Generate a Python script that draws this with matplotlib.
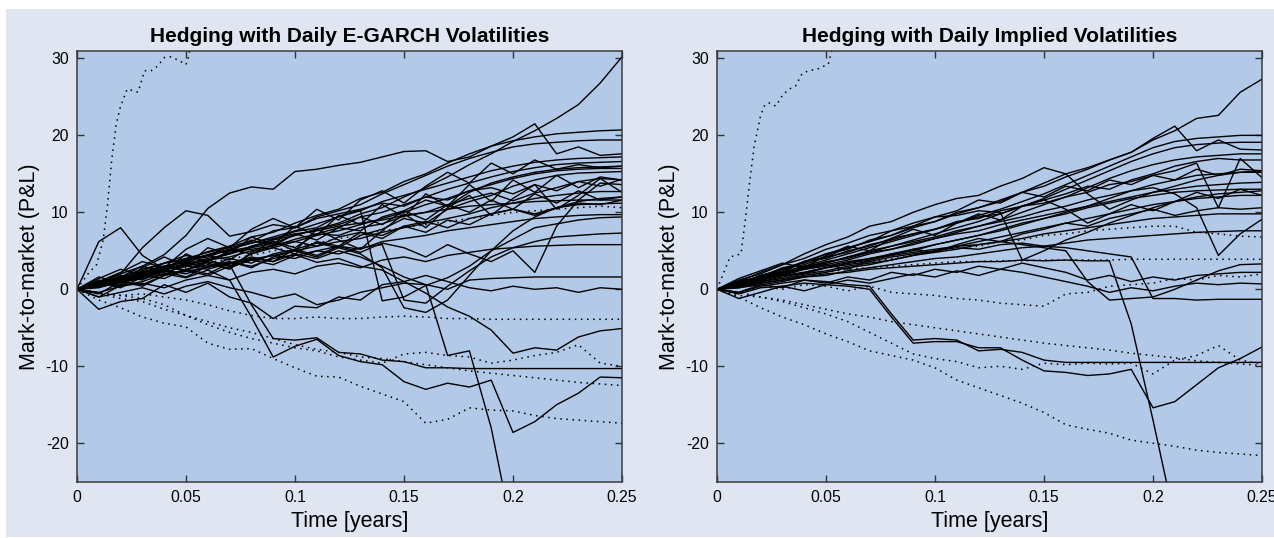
import numpy as np
import matplotlib
matplotlib.use("Agg")
import matplotlib.pyplot as plt
from matplotlib.patches import Rectangle

plt.rcParams['font.family'] = ['Liberation Sans', 'DejaVu Sans']
plt.rcParams['axes.unicode_minus'] = False

nan = np.nan

# time grid [years]
t = [0.00, 0.01, 0.02, 0.03, 0.04, 0.05, 0.06, 0.07, 0.08, 0.09, 0.10, 0.11, 0.12,
     0.13, 0.14, 0.15, 0.16, 0.17, 0.18, 0.19, 0.20, 0.21, 0.22, 0.23, 0.24, 0.25]

titles = ["Hedging with Daily E-GARCH Volatilities", "Hedging with Daily Implied Volatilities"]
xlabel = "Time [years]"
ylabel = "Mark-to-market (P&L)"
xticks = [0, 0.05, 0.1, 0.15, 0.2, 0.25]
xticklabels = ["0", "0.05", "0.1", "0.15", "0.2", "0.25"]
yticks = [-20, -10, 0, 10, 20, 30]

# ---- E-GARCH panel: solid P&L paths
garch_solid = [
    [0, 0.6, 1.3, 1.8, 2.6, 3.2, 3.8, 4.6, 5.4, 6.0, 7.0, 7.8, 8.6, 9.8, 10.6, 12.0, 13.2, 14.6, 16.2, 17.6, 19.2, 20.6, 22.2, 24.0, 26.8, 30.2],
    [0, 1.0, 1.4, 2.4, 3.4, 3.8, 4.9, 5.6, 6.8, 7.4, 8.6, 9.6, 10.4, 11.8, 12.6, 14.0, 15.0, 16.4, 17.6, 18.6, 19.3, 19.8, 20.2, 20.4, 20.6, 20.7],
    [0, 0.5, 1.6, 2.0, 2.8, 4.0, 4.4, 5.6, 6.2, 7.6, 8.0, 9.4, 10.2, 11.0, 12.4, 13.6, 14.8, 16.0, 17.0, 17.8, 18.5, 18.9, 19.1, 19.3, 19.4, 19.4],
    [0, 1.0, 2.0, 3.0, 4.5, 7.0, 10.5, 12.5, 13.3, 13.0, 15.3, 15.6, 16.1, 16.5, 17.2, 17.9, 18.0, 16.6, 17.2, 18.6, 19.8, 21.5, 17.6, 18.5, 17.4, 17.6],
    [0, 0.8, 2.0, 5.4, 8.0, 10.2, 9.6, 6.9, 7.5, 8.4, 8.0, 9.2, 9.8, 10.4, 11.2, 10.8, 12.0, 11.6, 12.8, 13.2, 12.4, 13.6, 12.8, 14.0, 13.4, 14.3],
    [0, 6.2, 8.0, 4.4, 2.6, 3.8, 4.2, 5.2, 4.6, 5.8, 6.2, 5.6, 6.8, 7.4, 7.0, 8.2, 8.8, 8.0, 9.2, 9.8, 10.4, 9.8, 10.6, 11.2, 11.0, 11.6],
    [0, 0.5, 1.4, 2.2, 3.0, 3.6, 4.5, 5.2, 6.0, 6.8, 7.6, 8.5, 9.4, 10.2, 11.4, 12.2, 13.0, 13.8, 14.6, 15.4, 16.0, 16.5, 16.8, 17.0, 17.1, 17.2],
    [0, 0.7, 1.2, 1.6, 2.4, 3.4, 4.0, 4.6, 5.6, 6.4, 7.0, 7.8, 8.4, 9.4, 10.0, 11.0, 12.0, 13.0, 13.8, 14.6, 15.3, 15.8, 16.2, 16.4, 16.5, 16.6],
    [0, 1.2, 0.6, 2.4, 1.8, 3.6, 4.4, 3.8, 5.6, 6.2, 5.4, 7.2, 8.0, 7.6, 9.4, 10.2, 11.6, 10.8, 12.6, 13.8, 14.6, 15.2, 15.6, 15.8, 15.9, 16.0],
    [0, 0.4, 1.0, 1.8, 2.6, 3.2, 3.8, 4.2, 5.0, 5.4, 6.2, 7.0, 7.6, 8.4, 9.2, 10.0, 11.0, 11.8, 12.8, 13.6, 14.4, 15.0, 15.4, 15.6, 15.7, 15.7],
    [0, -0.6, 1.0, 0.4, 1.8, 2.6, 2.0, 3.4, 4.2, 3.6, 5.2, 6.0, 5.4, 7.0, 7.8, 9.2, 8.6, 10.4, 11.4, 12.2, 13.4, 14.2, 14.8, 15.1, 15.2, 15.3],
    [0, 0.8, 1.2, 2.0, 2.6, 3.0, 3.6, 4.8, 5.2, 5.6, 6.5, 7.2, 7.0, 8.0, 8.5, 9.5, 10.0, 11.0, 11.8, 12.5, 11.5, 12.5, 13.2, 14.0, 14.4, 14.2],
    [0, 0.6, 1.8, 1.2, 2.6, 3.4, 2.8, 4.0, 3.4, 4.6, 5.2, 4.4, 5.6, 4.8, 6.0, 5.4, 4.2, 5.8, 4.6, 3.6, 5.0, 2.2, 8.2, 11.6, 13.8, 13.6],
    [0, 0.3, 0.9, 1.4, 2.0, 2.3, 2.9, 3.3, 3.9, 4.4, 5.0, 5.6, 6.2, 6.6, 7.4, 8.0, 8.6, 9.2, 9.8, 10.6, 11.2, 11.8, 12.2, 12.5, 12.7, 12.7],
    [0, 1.4, 2.6, 1.8, 3.4, 4.4, 3.6, 5.0, 6.4, 5.6, 7.2, 6.4, 8.0, 9.4, 8.4, 10.2, 9.0, 11.0, 10.0, 11.6, 10.4, 12.4, 11.2, 12.8, 11.6, 12.0],
    [0, 0.9, 1.6, 2.6, 3.4, 4.0, 4.8, 5.4, 6.0, 6.6, 7.2, 7.6, 8.2, 8.6, 9.0, 9.6, 10.0, 10.4, 10.8, 11.0, 11.2, 11.4, 11.5, 11.6, 11.6, 11.6],
    [0, 0.8, 0.2, 1.6, 2.4, 1.6, 3.0, 3.6, 2.8, 4.2, 5.0, 4.2, 5.4, 4.6, 2.8, -2.4, -3.0, -1.4, 1.8, 5.0, 7.6, 9.4, 10.6, 11.4, 11.8, 12.0],
    [0, 1.0, 0.4, 2.2, 3.0, 2.4, 3.8, 3.0, 4.6, 5.4, 4.6, 6.2, 5.6, 7.4, 6.6, 8.2, 7.4, 9.0, 8.4, 9.8, 10.4, 9.6, 10.6, 11.0, 11.1, 11.2],
    [0, 0.4, 1.2, 1.8, 1.4, 2.6, 3.2, 2.8, 3.8, 4.4, 4.0, 5.0, 5.6, 5.2, 6.2, 6.6, 7.0, 7.6, 8.0, 8.4, 8.8, 9.2, 9.4, 9.6, 9.7, 9.7],
    [0, 0.5, 1.5, 2.0, 3.0, 3.5, 4.5, 5.0, 5.5, 6.5, 7.5, 8.0, 9.5, 10.3, -1.5, -1.0, 0.5, 1.5, 3.0, 5.0, 6.5, 8.0, 8.5, 9.0, 9.3, 9.4],
    [0, 0.2, 1.0, 0.6, 1.8, 2.4, 1.8, 3.0, 3.8, 3.2, 4.4, 5.0, 4.6, 5.4, 5.8, -1.4, -1.8, 0.4, 2.4, 4.2, 5.4, 6.2, 6.8, 7.0, 7.2, 7.3],
    [0, -0.4, 0.4, 0.8, 0.2, 1.2, 1.8, 1.2, 2.2, 2.6, 2.0, 3.0, 3.4, 2.8, 3.8, 4.2, 3.6, 4.4, 4.8, 5.2, 5.4, 5.6, 5.7, 5.8, 5.8, 5.8],
    [0, -1.0, -0.4, 0.2, -0.6, 0.4, 1.0, 0.2, -0.4, -1.2, -0.6, -2.0, -1.4, -0.4, 0.2, 0.8, 0.6, 0.0, 1.2, 1.4, 1.5, 1.6, 1.6, 1.6, 1.6, 1.6],
    [0, -2.6, -1.6, -1.2, 0.6, -0.4, 0.8, -1.0, -1.8, -3.8, -2.2, -2.4, -1.0, -1.4, 0.6, 1.0, 1.8, 1.0, 0.2, -0.2, 0.4, 0.0, 0.2, -0.4, 0.2, 0.0],
    [0, 0.5, 1.0, 1.5, 2.5, 2.0, 3.0, 3.5, 3.0, 4.0, 4.5, 3.5, 4.0, 3.0, 2.5, 1.0, -0.5, -2.3, -3.5, -5.3, -8.3, -7.6, -7.9, -6.2, -5.4, -5.1],
    [0, 0.8, 1.5, 2.2, 3.0, 2.5, 3.5, 3.2, -2.0, -6.4, -6.6, -6.3, -8.2, -8.4, -9.2, -9.4, -10.2, -10.2, -10.3, -10.3, -10.3, -10.3, -10.3, -10.3, -10.3, -10.3],
    [0, -1.0, 0.5, 1.0, 2.0, 1.5, 2.5, 1.2, -3.6, -8.8, -7.4, -6.5, -8.6, -9.4, -9.8, -12.0, -13.0, -12.2, -12.7, -11.8, -18.6, -17.2, -15.0, -13.5, -11.4, -11.5],
    [0, 0.5, 1.0, 1.6, 2.2, 3.0, 2.6, 3.4, 4.0, 3.6, 4.6, 4.0, 5.0, 4.2, 3.0, 1.6, 0.6, -8.6, -8.0, -18.0, -32.0, nan, nan, nan, nan, nan],
    [0, 1.6, 0.8, 2.8, 4.2, 3.0, 5.4, 4.6, 6.8, 5.8, 8.2, 7.0, 9.6, 8.4, 11.0, 9.4, 12.4, 10.8, 13.6, 11.4, 14.2, 12.6, 14.8, 13.2, 14.6, 14.2],
    [0, 0.4, 1.6, 3.0, 2.2, 4.6, 3.4, 2.6, 4.8, 6.2, 5.0, 7.8, 6.4, 5.2, 7.6, 9.8, 8.0, 10.6, 12.2, 9.6, 11.8, 13.6, 10.4, 12.2, 14.4, 12.6],
    [0, 1.0, 2.2, 3.6, 2.8, 5.2, 6.6, 5.4, 7.8, 9.2, 8.0, 10.4, 9.0, 11.6, 12.8, 11.2, 13.4, 15.2, 13.8, 16.4, 15.0, 16.8, 15.6, 16.2, 15.8, 16.0],
]

# ---- E-GARCH panel: dotted paths
garch_dotted = [
    [0, -0.6, -0.8, -0.6, -1.0, -1.4, -2.0, -2.8, -3.4, -3.8, -3.8, -3.6, -3.8, -3.8, -3.6, -3.5, -3.6, -3.8, -3.8, -3.9, -3.9, -3.9, -3.9, -3.9, -3.9, -3.9],
    [0, -1.4, -2.4, -3.6, -4.4, -4.9, -7.0, -7.8, -7.7, -9.0, -10.2, -11.3, -11.4, -12.6, -13.6, -14.6, -17.4, -16.9, -15.4, -15.7, -15.8, -16.4, -16.8, -17.0, -17.2, -17.4],
    [0, -0.6, -1.2, -1.6, -2.6, -3.4, -4.2, -5.0, -5.6, -6.4, -7.2, -7.8, -8.2, -8.8, -9.0, -9.4, -9.8, -10.2, -10.6, -10.9, -11.2, -11.5, -11.8, -12.1, -12.3, -12.5],
    [0, -0.4, -0.8, -1.2, -2.0, -3.4, -4.6, -5.6, -6.4, -7.0, -7.6, -8.0, -8.8, -9.2, -9.6, -8.4, -8.2, -8.6, -8.8, -9.6, -9.2, -8.6, -8.2, -7.2, -9.6, -10.0],
    [0, 0.4, 1.0, 1.6, 2.4, 2.8, 3.4, 4.0, 4.4, 5.0, 5.6, 6.0, 6.6, 7.0, 7.6, 8.0, 8.4, 8.8, 9.2, 9.6, 10.0, 10.2, 10.4, 10.6, 10.8, 10.6],
]
garch_spike_t = [0, 0.005, 0.009, 0.012, 0.014, 0.016, 0.018, 0.020, 0.023, 0.026, 0.028,
                 0.031, 0.034, 0.037, 0.040, 0.043, 0.047, 0.050, 0.051, 0.053]
garch_spike = [0, 2.0, 3.2, 6.4, 11.0, 17.0, 21.5, 23.8, 26.0, 25.8, 25.6,
               28.4, 28.4, 29.0, 30.1, 30.2, 29.7, 29.2, 30.0, 33.0]

# ---- Implied-vol panel: solid P&L paths
implied_solid = [
    [0, 0.8, 1.8, 2.6, 3.6, 4.6, 5.4, 6.2, 7.0, 8.0, 8.8, 9.8, 10.6, 11.4, 12.6, 13.8, 15.0, 15.8, 16.8, 17.8, 19.4, 20.6, 22.2, 22.6, 25.6, 27.3],
    [0, 1.0, 1.6, 2.8, 3.4, 4.6, 5.2, 6.4, 7.0, 8.2, 8.8, 10.0, 10.6, 11.6, 12.6, 13.4, 14.6, 15.6, 16.8, 17.8, 19.6, 21.2, 18.0, 19.4, 18.2, 18.1],
    [0, 1.2, 2.0, 3.2, 4.6, 5.8, 6.8, 8.2, 8.8, 10.0, 11.0, 11.8, 12.2, 13.4, 14.4, 15.8, 15.0, 12.4, 10.4, 11.6, 12.6, 13.4, 14.2, 14.8, 15.2, 15.4],
    [0, 0.8, 1.4, 2.2, 3.0, 3.8, 4.6, 5.4, 6.2, 7.0, 7.8, 8.6, 9.6, 10.4, 11.4, 12.4, 13.6, 14.8, 16.0, 17.2, 18.4, 19.2, 19.6, 19.8, 20.0, 20.0],
    [0, 0.6, 1.4, 2.0, 2.8, 3.4, 4.2, 5.0, 5.6, 6.4, 7.2, 8.0, 8.8, 9.8, 10.8, 11.8, 13.0, 14.2, 15.4, 16.6, 17.6, 18.4, 18.8, 19.0, 19.1, 19.1],
    [0, 0.6, 1.2, 1.8, 2.6, 3.2, 3.8, 4.6, 5.2, 5.8, 6.6, 7.4, 8.2, 9.0, 10.0, 11.0, 12.0, 13.2, 14.4, 15.4, 16.2, 16.8, 17.2, 17.4, 17.6, 17.6],
    [0, 0.9, 1.6, 2.6, 3.2, 4.2, 4.8, 5.8, 6.4, 7.2, 7.8, 8.8, 9.2, 10.2, 10.8, 11.6, 12.4, 13.4, 13.0, 14.2, 15.0, 16.0, 16.6, 17.0, 16.8, 16.8],
    [0, 0.4, 1.0, 1.6, 2.2, 2.8, 3.4, 4.0, 4.6, 5.2, 5.8, 6.4, 7.0, 7.6, 8.4, 9.2, 10.0, 10.8, 11.8, 12.8, 13.6, 14.2, 14.8, 15.0, 15.2, 15.2],
    [0, 0.6, 1.6, 2.4, 3.6, 4.0, 5.0, 5.6, 6.6, 7.2, 7.8, 8.6, 9.4, 9.8, 10.8, 11.2, 12.0, 12.6, 13.6, 14.0, 14.8, 15.4, 16.4, 10.6, 17.0, 14.5],
    [0, 1.0, 1.6, 2.2, 3.0, 3.4, 4.2, 4.8, 5.2, 6.0, 6.6, 7.2, 7.6, 8.4, 9.0, 9.6, 10.2, 10.8, 11.4, 12.0, 12.6, 13.0, 13.4, 13.6, 13.8, 13.9],
    [0, 0.5, 1.2, 1.8, 2.0, 2.8, 3.4, 3.8, 4.6, 5.0, 5.8, 6.4, 7.0, 7.8, 8.6, 9.2, 9.8, 10.6, 11.2, 11.8, 12.2, 12.6, 12.8, 12.9, 13.0, 13.0],
    [0, 1.0, 2.2, 3.2, 4.0, 5.2, 6.0, 7.0, 7.6, 8.6, 9.4, 9.6, 10.2, 10.0, 3.8, 5.0, 6.4, 7.4, 8.6, 9.6, 10.6, 11.4, 12.0, 12.4, 12.6, 12.8],
    [0, 0.2, 0.8, 1.2, 1.8, 2.2, 2.8, 3.2, 3.8, 4.4, 5.0, 5.6, 6.2, 6.8, 7.4, 8.0, 8.6, 9.2, 9.8, 10.4, 11.0, 11.4, 11.8, 12.0, 12.2, 12.2],
    [0, 0.8, 1.2, 2.0, 2.8, 3.2, 2.6, 3.8, 4.4, 5.2, 4.8, 5.8, 6.6, 6.2, 7.2, 7.8, 8.6, 8.2, 9.2, 9.8, 10.4, 9.6, 10.2, 10.6, 10.4, 10.6],
    [0, 0.4, 1.0, 1.4, 2.0, 2.4, 3.0, 3.4, 3.8, 4.4, 4.8, 5.2, 5.8, 6.2, 6.6, 7.2, 7.6, 8.0, 8.4, 8.8, 9.2, 9.4, 9.6, 9.8, 9.8, 9.8],
    [0, 0.6, 1.4, 2.0, 2.8, 3.6, 4.0, 4.8, 5.6, 6.2, 6.8, 7.6, 8.2, 8.8, 9.4, 10.2, 10.8, 11.6, 12.2, 12.8, 13.2, 12.4, 10.6, 4.4, 7.2, 9.1],
    [0, 0.2, 0.6, 1.0, 1.6, 1.8, 2.4, 2.8, 3.2, 3.6, 4.0, 4.2, 4.6, 5.0, 5.4, 5.6, 6.0, 6.4, 6.6, 6.8, 7.0, 7.2, 7.4, 7.5, 7.6, 7.6],
    [0, 0.8, 1.4, 2.0, 2.6, 3.0, 3.6, 4.0, 4.4, 4.8, 5.2, 5.6, 5.8, 6.2, 5.8, 5.4, 5.0, 1.0, -1.4, -1.2, -1.0, 0.0, 1.2, 2.4, 3.2, 3.3],
    [0, 0.6, 1.2, 1.8, 2.2, 2.8, 3.2, 3.6, 4.2, 4.6, 5.0, 5.4, 5.2, 5.8, 6.0, 5.6, 5.4, 5.0, 4.6, 4.2, -1.2, -1.2, -1.4, -1.3, -1.3, -1.3],
    [0, -0.4, 0.6, 0.2, 1.2, 0.8, 1.6, 1.2, 2.2, 1.8, 2.6, 2.2, 3.0, 2.6, 3.4, 2.8, 2.2, 1.2, 1.8, 1.0, 1.6, 1.2, 1.8, 2.0, 2.2, 2.2],
    [0, -1.2, -0.4, 0.4, -0.2, 0.6, 1.2, 0.8, 1.4, 2.0, 1.6, 2.4, 1.8, 2.6, 2.2, 1.6, 1.0, 0.4, -0.4, 0.2, -0.2, 0.4, 0.8, 0.6, 0.8, 0.7],
    [0, -0.4, 0.4, 0.8, 1.2, 1.0, 0.6, 0.4, -3.2, -6.6, -6.4, -6.6, -8.0, -7.8, -8.2, -9.2, -9.5, -9.5, -9.5, -9.5, -9.5, -9.5, -9.5, -9.5, -9.5, -9.5],
    [0, -0.6, 0.2, 0.4, 0.8, 0.6, 0.4, 0.0, -3.6, -7.0, -6.8, -6.8, -7.6, -7.6, -9.2, -10.6, -10.8, -11.2, -11.0, -10.4, -15.4, -14.6, -12.4, -10.2, -9.0, -7.5],
    [0, 0.4, 0.8, 1.2, 1.6, 2.0, 2.2, 2.6, 2.8, 3.0, 3.2, 3.4, 3.6, 3.6, 3.8, 3.7, 3.8, 3.7, 3.7, -4.5, -17.0, -30.0, nan, nan, nan, nan],
    [0, 1.4, 2.4, 3.4, 2.8, 4.4, 5.6, 5.0, 6.6, 7.8, 7.0, 8.6, 9.8, 9.0, 10.8, 11.6, 10.4, 8.6, 9.8, 11.0, 10.2, 11.4, 12.6, 11.8, 13.0, 12.2],
    [0, 0.6, 1.8, 2.2, 3.6, 4.2, 5.4, 6.2, 7.6, 8.2, 9.4, 10.2, 11.6, 11.2, 12.6, 12.0, 13.4, 12.8, 14.2, 13.6, 14.8, 14.2, 15.6, 14.8, 15.6, 15.4],
]

# ---- Implied-vol panel: dotted paths
implied_dotted = [
    [0, -1.0, -2.4, -3.6, -4.6, -5.8, -6.8, -8.0, -8.6, -9.2, -10.2, -11.8, -12.8, -13.8, -14.8, -16.0, -17.6, -18.2, -18.7, -19.6, -20.0, -20.4, -20.9, -21.2, -21.4, -21.6],
    [0, -0.4, -1.0, -1.4, -2.0, -2.6, -3.2, -3.6, -4.2, -4.6, -5.0, -5.4, -5.8, -6.2, -6.6, -7.0, -7.3, -7.6, -7.9, -8.3, -8.6, -8.9, -9.3, -9.5, -9.7, -9.9],
    [0, -0.8, -1.0, -1.6, -2.4, -3.2, -4.2, -5.6, -7.0, -8.4, -9.0, -9.4, -10.2, -10.0, -10.4, -9.6, -9.8, -9.6, -9.7, -9.6, -11.0, -9.2, -8.6, -7.3, -9.2, -9.7],
    [0, -0.6, 0.4, 0.0, 0.6, 0.4, -0.2, 0.4, -0.4, -0.6, -0.8, -1.2, -1.4, -1.8, -2.0, -2.2, -0.6, -0.4, 0.4, 0.6, 0.8, 1.4, 1.2, 1.8, 1.6, 2.0],
    [0, 0.6, 1.0, 1.4, 1.8, 2.2, 2.6, 2.8, 3.0, 3.2, 3.4, 3.6, 3.6, 3.7, 3.7, 3.8, 3.8, 3.8, 3.8, 3.9, 3.9, 3.9, 3.9, 3.9, 3.9, 3.9],
    [0, 0.8, 1.2, 2.0, 2.2, 2.8, 3.4, 3.6, 4.0, 4.6, 4.8, 5.4, 5.6, 6.2, 6.4, 7.0, 7.2, 7.6, 7.8, 8.0, 8.2, 8.2, 7.4, 7.2, 6.9, 6.8],
]
implied_spike_t = [0, 0.006, 0.011, 0.013, 0.015, 0.017, 0.020, 0.022, 0.024, 0.027,
                   0.030, 0.033, 0.036, 0.039, 0.042, 0.046, 0.049, 0.051, 0.053]
implied_spike = [0, 4.2, 4.6, 9.0, 14.0, 18.5, 22.6, 24.0, 24.2, 23.8,
                 25.2, 26.0, 26.4, 28.0, 28.4, 28.6, 29.0, 29.2, 31.5]

W, H = 1274, 538
fig = plt.figure(figsize=(W / 100, H / 100), dpi=100, facecolor="white")
# light panel behind both plots (thin white margin on the left and top)
fig.patches.append(Rectangle((6 / W, 1 / H), 1, 1 - 10 / H, transform=fig.transFigure,
                             facecolor="#dfe6f2", edgecolor="none", zorder=-10))

dots = (0, (1, 3))
panels = [
    (77, titles[0], garch_solid, garch_dotted, garch_spike_t, garch_spike),
    (717, titles[1], implied_solid, implied_dotted, implied_spike_t, implied_spike),
]
for x0, title, solid, dotted, sp_t, sp_v in panels:
    ax = fig.add_axes([x0 / W, (H - 481.7) / H, 545 / W, 431 / H])
    ax.set_facecolor("#b3c9e8")
    for path in solid:
        ax.plot(t, path, color="black", lw=1.0)
    for path in dotted:
        ax.plot(t, path, color="black", lw=1.1, linestyle=dots)
    ax.plot(sp_t, sp_v, color="black", lw=1.1, linestyle=dots)

    ax.set_xlim(0, 0.25)
    ax.set_ylim(-25, 31)
    ax.set_xticks(xticks)
    ax.set_xticklabels(xticklabels)
    ax.set_yticks(yticks)
    ax.tick_params(direction="in", top=True, right=True, length=5, width=1,
                   labelsize=11.3, pad=6, color="#333333")
    for s in ax.spines.values():
        s.set_color("#3a3a3a")
        s.set_linewidth(1.1)
    ax.set_title(title, fontsize=15, fontweight="bold", pad=6.5)
    ax.set_xlabel(xlabel, fontsize=15.5, labelpad=4)
    ax.set_ylabel(ylabel, fontsize=15.5, labelpad=4)

fig.savefig("out.png", dpi=100, facecolor=fig.get_facecolor())
